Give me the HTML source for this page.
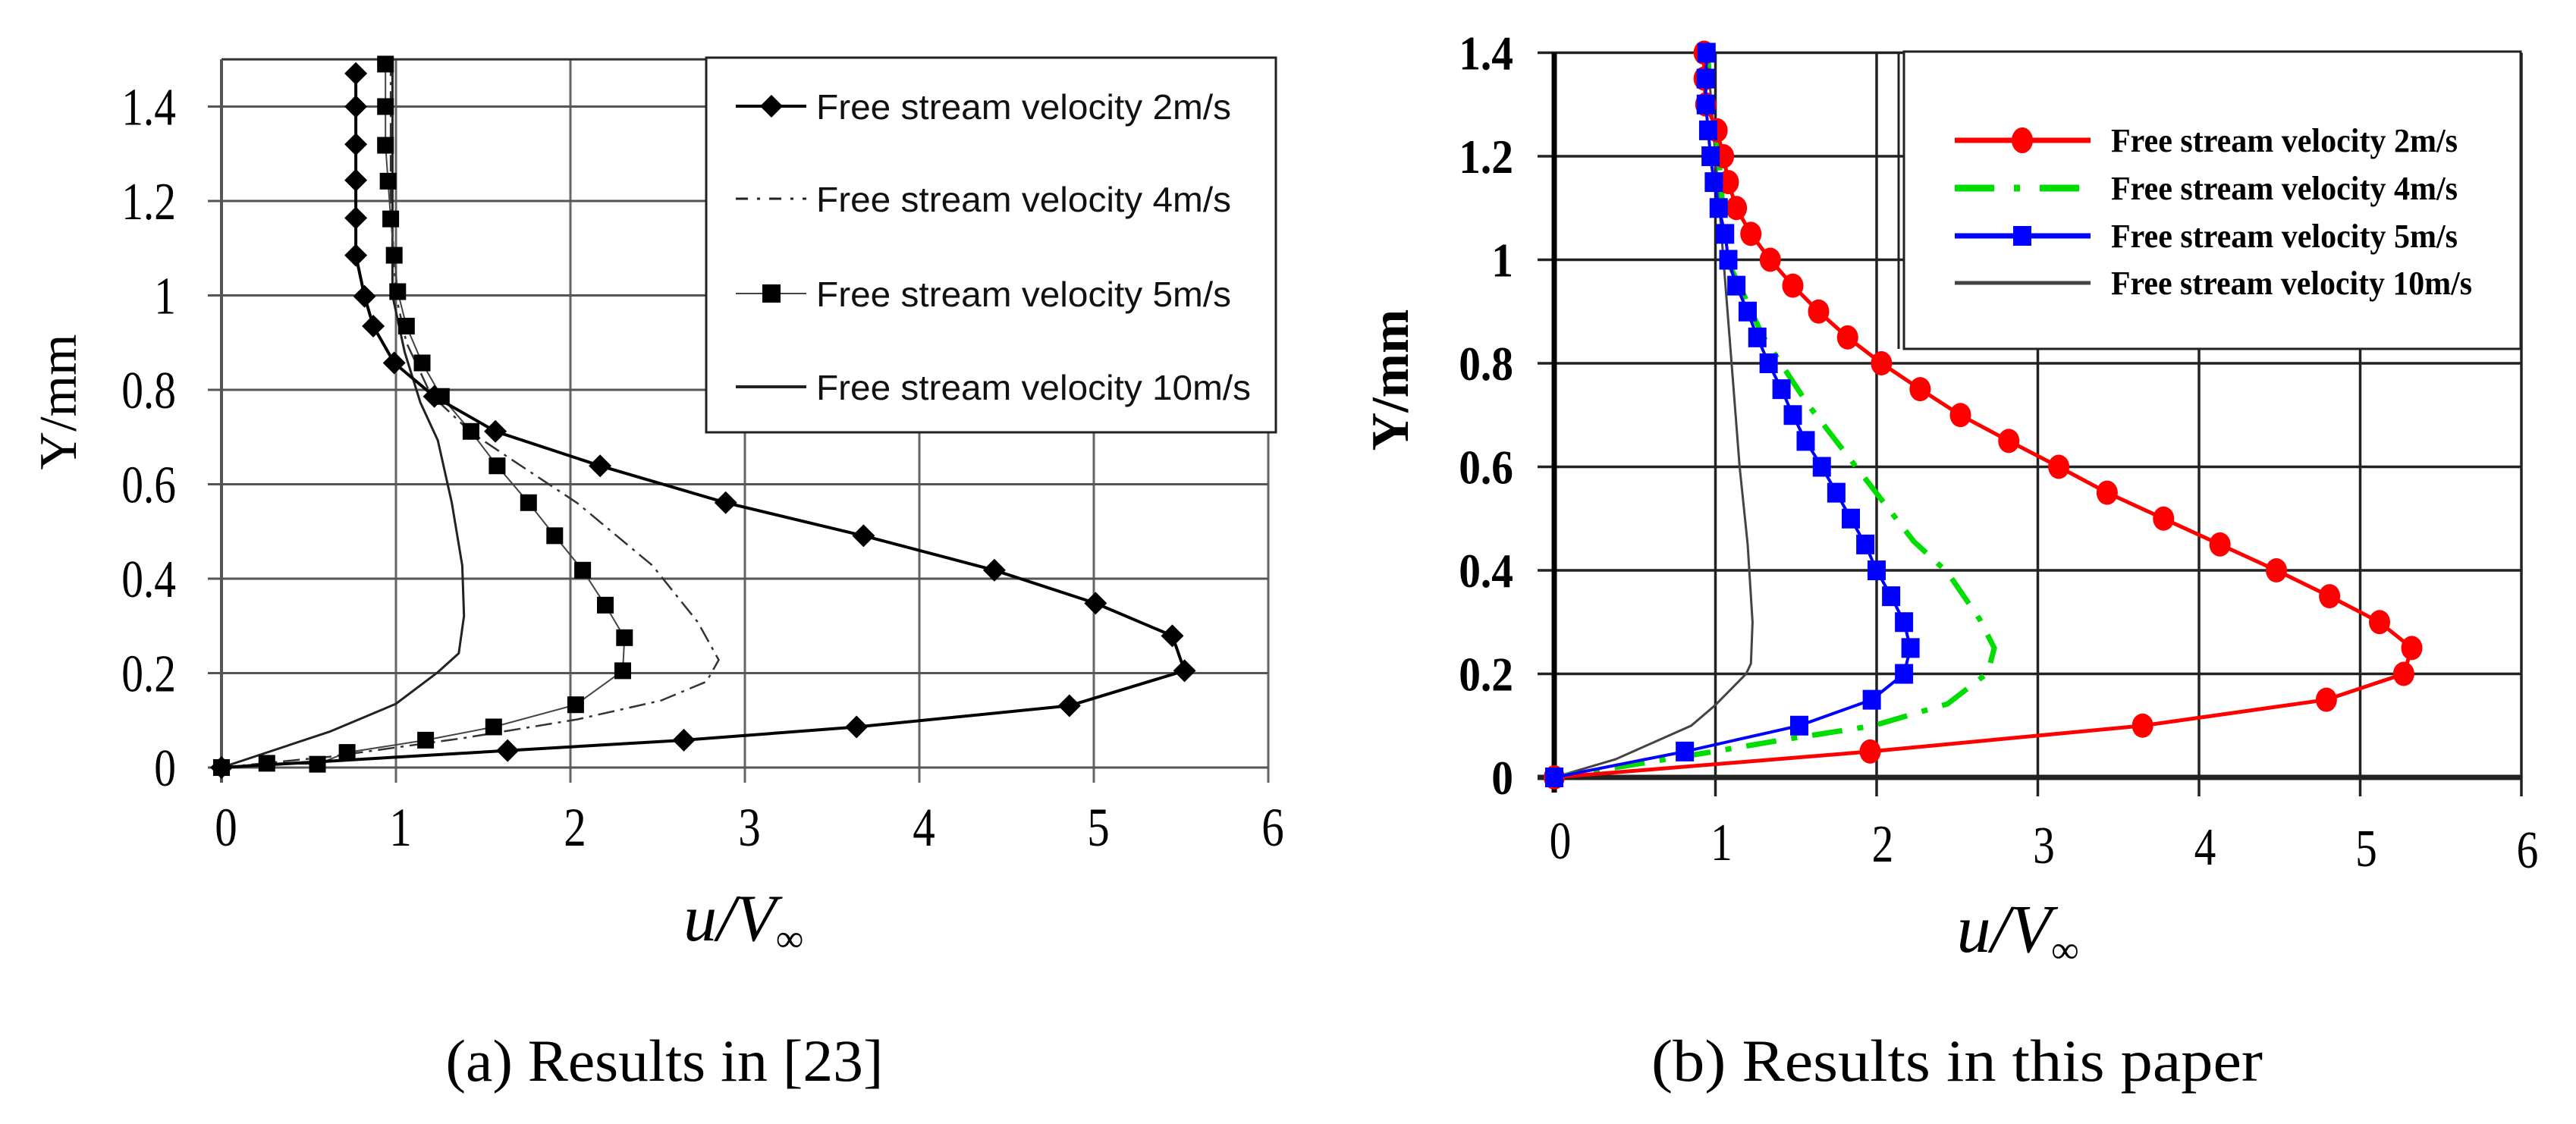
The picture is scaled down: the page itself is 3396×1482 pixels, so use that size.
<!DOCTYPE html>
<html><head><meta charset="utf-8"><style>
html,body{margin:0;padding:0;background:#fff;}
svg{display:block;}
text{font-family:"Liberation Serif",serif;}
</style></head><body>
<svg id="fig" width="3396" height="1482" viewBox="0 0 3396 1482" xmlns="http://www.w3.org/2000/svg">
<rect x="0" y="0" width="3396" height="1482" fill="#fff"/>
<g id="left"></g>
<g id="right"></g>
<text x="876" y="1425" font-size="78" text-anchor="middle" textLength="577" lengthAdjust="spacingAndGlyphs">(a) Results in [23]</text>
<text x="2580" y="1425" font-size="78" text-anchor="middle" textLength="806" lengthAdjust="spacingAndGlyphs">(b) Results in this paper</text>
</svg>
<script>
// ---------- data: left chart (Results in [23]) ----------
const xTicks = [0,1,2,3,4,5,6];
const yTicksL = [0,0.2,0.4,0.6,0.8,1,1.2,1.4];
const yTickLabels = ["0","0.2","0.4","0.6","0.8","1","1.2","1.4"];
const legendLabels = ["Free stream velocity 2m/s","Free stream velocity 4m/s","Free stream velocity 5m/s","Free stream velocity 10m/s"];

const L2x = [0.77,0.77,0.77,0.77,0.77,0.77,0.82,0.87,0.99,1.22,1.57,2.17,2.89,3.68,4.43,5.01,5.45,5.52,4.86,3.64,2.65,1.64,0];
const L2y = [1.47,1.40,1.32,1.244,1.164,1.085,0.998,0.935,0.857,0.786,0.712,0.639,0.561,0.491,0.418,0.348,0.279,0.205,0.131,0.086,0.058,0.036,0];
const L5x = [0.94,0.94,0.94,0.955,0.97,0.99,1.01,1.06,1.15,1.26,1.43,1.58,1.76,1.91,2.07,2.20,2.31,2.30,2.03,1.56,1.17,0.72,0.55,0.26,0];
const L5y = [1.49,1.40,1.318,1.242,1.162,1.085,1.008,0.935,0.857,0.786,0.712,0.639,0.561,0.491,0.418,0.344,0.275,0.205,0.133,0.086,0.058,0.032,0.007,0.009,0];
const L4x = [0.97,0.97,1.0,1.06,1.2,1.43,1.66,2.04,2.47,2.73,2.85,2.78,2.52,2.04,1.38,0.62,0];
const L4y = [1.5,1.2,1.0,0.9,0.79,0.71,0.653,0.56,0.428,0.308,0.228,0.182,0.142,0.102,0.062,0.023,0];
const L10x = [0.98,0.98,1.05,1.14,1.24,1.32,1.38,1.39,1.36,1.24,1.0,0.62,0];
const L10y = [1.5,1.0,0.88,0.773,0.693,0.561,0.428,0.321,0.242,0.202,0.135,0.076,0];

// ---------- data: right chart (Results in this paper) ----------
const yTicksR = [0,0.2,0.4,0.6,0.8,1,1.2,1.4];
const R2x = [0.93,0.93,0.94,1.01,1.05,1.08,1.13,1.22,1.34,1.48,1.64,1.82,2.03,2.27,2.52,2.82,3.13,3.43,3.78,4.13,4.48,4.81,5.12,5.32,5.27,4.79,3.65,1.96,0];
const R2y = [1.40,1.35,1.30,1.25,1.20,1.15,1.10,1.05,1.00,0.95,0.90,0.85,0.80,0.75,0.70,0.65,0.60,0.55,0.50,0.45,0.40,0.35,0.30,0.25,0.20,0.15,0.10,0.05,0];
const R5x = [0.945,0.94,0.94,0.955,0.97,0.99,1.02,1.06,1.08,1.13,1.20,1.26,1.33,1.41,1.48,1.56,1.66,1.75,1.84,1.93,2.00,2.09,2.17,2.21,2.17,1.97,1.52,0.81,0];
const R5y = [1.40,1.35,1.30,1.25,1.20,1.15,1.10,1.05,1.00,0.95,0.90,0.85,0.80,0.75,0.70,0.65,0.60,0.55,0.50,0.45,0.40,0.35,0.30,0.25,0.20,0.15,0.10,0.05,0];
const R4x = [0.95,0.98,1.02,1.07,1.15,1.29,1.57,1.93,2.23,2.44,2.64,2.73,2.69,2.44,1.98,1.37,0.99,0.5,0];
const R4y = [1.40,1.30,1.20,1.00,0.95,0.855,0.722,0.577,0.456,0.396,0.305,0.25,0.202,0.142,0.10,0.07,0.05,0.025,0];
const R10x = [0.95,1.0,1.05,1.10,1.15,1.2,1.23,1.22,1.19,1.0,0.85,0.38,0];
const R10y = [1.40,1.2,1.0,0.8,0.6,0.45,0.3,0.22,0.2,0.14,0.1,0.035,0];

const NS='http://www.w3.org/2000/svg';
function mk(parent, tag, attrs){const e=document.createElementNS(NS,tag);for(const k in attrs)e.setAttribute(k,attrs[k]);parent.appendChild(e);return e;}
function labLen(s,fs){let w=0;for(const c of s){w+=(c==='.')?0.25:0.5;}return (w*fs*0.82).toFixed(1);}

// ---------- axis functions ----------
const Lx0=292, Lux=230, Ly0=1012, Luy=124.5/0.2;
function lx(v){return Lx0+v*Lux;}
function ly(v){return Ly0-v*Luy;}
const Rx0=2049, Rux=212.5, Ry0=1025, Ruy=136.5/0.2;
function rx(v){return Rx0+v*Rux;}
function ry(v){return Ry0-v*Ruy;}

function pathFrom(xs,ys,fx,fy){let d='';for(let i=0;i<xs.length;i++){d+=(i?'L':'M')+fx(xs[i]).toFixed(1)+' '+fy(ys[i]).toFixed(1);}return d;}

// ================= LEFT CHART =================
const GL=document.getElementById('left');
for(let i=1;i<xTicks.length;i++){
  const g=mk(GL,'line',{x1:lx(xTicks[i]),x2:lx(xTicks[i]),y1:ly(1.5),y2:ly(0)+20,stroke:'#666','stroke-width':3});
  
  
}
for(let i=0;i<yTicksL.length;i++){
  const g=mk(GL,'line',{x1:lx(0)-18,x2:lx(6),y1:ly(yTicksL[i]),y2:ly(yTicksL[i]),stroke:'#555','stroke-width':3});
  
  
  const t=mk(GL,'text',{x:232,y:ly(yTicksL[i])+24,'font-size':70,'text-anchor':'end',textLength:labLen(yTickLabels[i],70),lengthAdjust:'spacingAndGlyphs'});
  t.textContent=yTickLabels[i];
  
  
}
{
  const top=mk(GL,'line',{x1:lx(0),x2:lx(6),y1:ly(1.5),y2:ly(1.5),stroke:'#333','stroke-width':3});
  
  
  const ax=mk(GL,'line',{x1:lx(0),x2:lx(0),y1:ly(1.5),y2:ly(0)+20,stroke:'#555','stroke-width':4});
  
  
}
for(let i=0;i<xTicks.length;i++){
  const s=String(xTicks[i]);
  const t=mk(GL,'text',{x:lx(xTicks[i])+6,y:1115,'font-size':72,'text-anchor':'middle',textLength:labLen(s,72),lengthAdjust:'spacingAndGlyphs'});
  t.textContent=s;
  
  
}
{
  const t=mk(GL,'text',{x:0,y:0,'font-size':70,'text-anchor':'middle',transform:'translate(100,530) rotate(-90)'});
  t.textContent='Y/mm';
  
  
  const u=mk(GL,'text',{x:980,y:1240,'font-size':88,'text-anchor':'middle','font-style':'italic'});
  u.innerHTML='u/V<tspan font-size="50" dy="14">∞</tspan>';
  
  
}
function diamond(g,cx,cy,s){return mk(g,'polygon',{points:`${cx},${cy-s} ${cx+s},${cy} ${cx},${cy+s} ${cx-s},${cy}`,fill:'#000'});}
{
  const p10=mk(GL,'path',{d:pathFrom(L10x,L10y,lx,ly),fill:'none',stroke:'#222','stroke-width':3});
  
  
  const p4=mk(GL,'path',{d:pathFrom(L4x,L4y,lx,ly),fill:'none',stroke:'#333','stroke-width':2.5,'stroke-dasharray':'22 8 4 8'});
  
  
  const p5=mk(GL,'path',{d:pathFrom(L5x,L5y,lx,ly),fill:'none',stroke:'#444','stroke-width':2});
  
  
  for(let i=0;i<L5x.length;i++){
    const m=mk(GL,'rect',{x:lx(L5x[i])-11,y:ly(L5y[i])-11,width:22,height:22,fill:'#000'});
    
    
  }
  const p2=mk(GL,'path',{d:pathFrom(L2x,L2y,lx,ly),fill:'none',stroke:'#000','stroke-width':4});
  
  
  for(let i=0;i<L2x.length;i++){
    const m=diamond(GL,lx(L2x[i]),ly(L2y[i]),15);
    
    
  }
}
{
  const lg=mk(GL,'g',{});
  
  
  mk(lg,'rect',{x:931,y:76,width:751,height:494,fill:'#fff',stroke:'#222','stroke-width':3});
  const rows=[140,262,387,510];
  const lens=[547,547,547,573];
  for(let i=0;i<4;i++){
    const y=rows[i];
    if(i===0){mk(lg,'line',{x1:970,x2:1063,y1:y,y2:y,stroke:'#000','stroke-width':4});diamond(lg,1017,y,15);}
    if(i===1){mk(lg,'line',{x1:970,x2:1063,y1:y,y2:y,stroke:'#222','stroke-width':3,'stroke-dasharray':'16 12 4 12'});}
    if(i===2){mk(lg,'line',{x1:970,x2:1063,y1:y,y2:y,stroke:'#444','stroke-width':2});mk(lg,'rect',{x:1005,y:y-12,width:24,height:24,fill:'#000'});}
    if(i===3){mk(lg,'line',{x1:970,x2:1063,y1:y,y2:y,stroke:'#222','stroke-width':4});}
    const t=mk(lg,'text',{x:1076,y:y+17,'font-size':46,style:'font-family:"Liberation Sans",sans-serif',textLength:lens[i],lengthAdjust:'spacingAndGlyphs',fill:'#111'});
    t.textContent=legendLabels[i];
    
    
  }
}

// ================= RIGHT CHART =================
const GR=document.getElementById('right');
for(let i=1;i<xTicks.length;i++){
  const g=mk(GR,'line',{x1:rx(xTicks[i]),x2:rx(xTicks[i]),y1:ry(1.4),y2:ry(0)+25,stroke:'#222','stroke-width':3.5});
  
  
}
for(let i=0;i<yTicksR.length;i++){
  const g=mk(GR,'line',{x1:rx(0)-22,x2:rx(6),y1:ry(yTicksR[i]),y2:ry(yTicksR[i]),stroke:'#222','stroke-width':i===0?7:3.5});
  
  
  const t=mk(GR,'text',{x:1995,y:ry(yTicksR[i])+22,'font-size':64,'font-weight':'bold','text-anchor':'end',textLength:labLen(yTickLabels[i],70),lengthAdjust:'spacingAndGlyphs'});
  t.textContent=yTickLabels[i];
  
  
}
{
  const ax=mk(GR,'line',{x1:rx(0),x2:rx(0),y1:ry(1.4),y2:ry(0)+20,stroke:'#000','stroke-width':7});
  
  
}
for(let i=0;i<xTicks.length;i++){
  const s=String(xTicks[i]);
  const t=mk(GR,'text',{x:rx(xTicks[i])+8,y:1132+i*2,'font-size':70,'text-anchor':'middle',textLength:labLen(s,70),lengthAdjust:'spacingAndGlyphs'});
  t.textContent=s;
  
  
}
{
  const t=mk(GR,'text',{x:0,y:0,'font-size':70,'font-weight':'bold','text-anchor':'middle',transform:'translate(1856,501) rotate(-90)'});
  t.textContent='Y/mm';
  
  
  const u=mk(GR,'text',{x:2660,y:1255,'font-size':90,'text-anchor':'middle','font-style':'italic'});
  u.innerHTML='u/V<tspan font-size="50" dy="14">∞</tspan>';
  
  
}
{
  const lg=mk(GR,'g',{});
  
  
  mk(lg,'rect',{x:2510,y:68,width:813,height:392,fill:'#fff',stroke:'#222','stroke-width':3});
  mk(lg,'line',{x1:2503,x2:2503,y1:68,y2:460,stroke:'#222','stroke-width':3});
  const rows=[185,248,311,373];
  const lens=[457,457,457,476];
  const cols=['#ff0000','#00dd00','#0000ff','#444'];
  for(let i=0;i<4;i++){
    const y=rows[i];
    const attrs={x1:2577,x2:2756,y1:y,y2:y,stroke:cols[i],'stroke-width':i===1?9:(i===3?5:7)};
    if(i===1) attrs['stroke-dasharray']='52 26 8 26';
    mk(lg,'line',attrs);
    if(i===0) mk(lg,'ellipse',{cx:2666,cy:y,rx:14,ry:17,fill:'#ff0000'});
    if(i===2) mk(lg,'rect',{x:2654,y:y-13,width:24,height:26,fill:'#0000ff'});
    const t=mk(lg,'text',{x:2783,y:y+15,'font-size':44,'font-weight':'bold',textLength:lens[i],lengthAdjust:'spacingAndGlyphs',fill:'#000'});
    t.textContent=legendLabels[i];
    
    
  }
}
{
  const p10=mk(GR,'path',{d:pathFrom(R10x,R10y,rx,ry),fill:'none',stroke:'#444','stroke-width':3});
  
  
  const p4=mk(GR,'path',{d:pathFrom(R4x,R4y,rx,ry),fill:'none',stroke:'#00dd00','stroke-width':7,'stroke-dasharray':'40 20 8 20'});
  
  
  const p2=mk(GR,'path',{d:pathFrom(R2x,R2y,rx,ry),fill:'none',stroke:'#ff0000','stroke-width':5});
  
  
  for(let i=0;i<R2x.length;i++){
    const m=mk(GR,'ellipse',{cx:rx(R2x[i]),cy:ry(R2y[i]),rx:14,ry:16,fill:'#ff0000'});
    
    
  }
  const p5=mk(GR,'path',{d:pathFrom(R5x,R5y,rx,ry),fill:'none',stroke:'#0000ff','stroke-width':4});
  
  
  for(let i=0;i<R5x.length;i++){
    const m=mk(GR,'rect',{x:rx(R5x[i])-12,y:ry(R5y[i])-13,width:24,height:26,fill:'#0000ff'});
    
    
  }
}
</script>
</body></html>
